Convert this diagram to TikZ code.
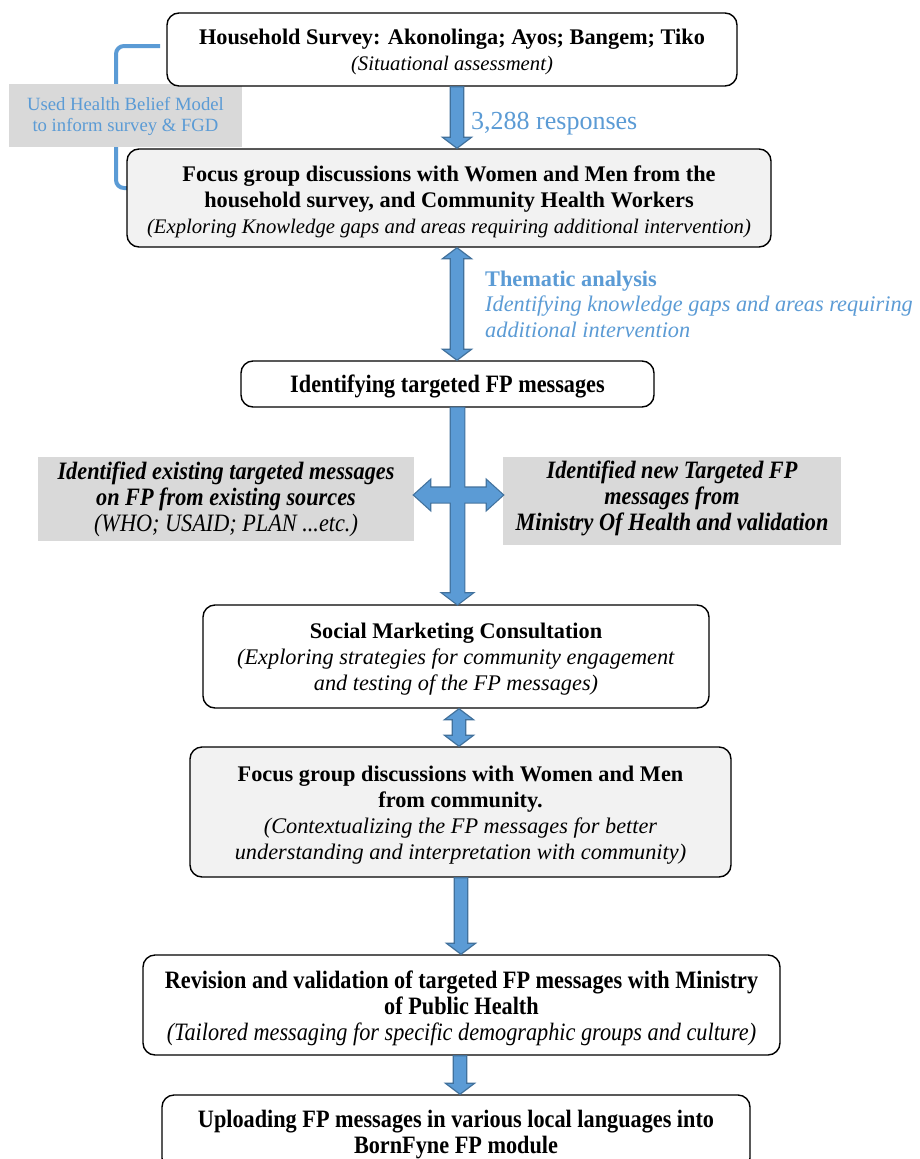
\documentclass[tikz,border=0pt]{standalone}
\usepackage{fontspec}
\setmainfont{Liberation Serif}
\newfontfamily\cond[FakeStretch=0.89]{Liberation Serif}
\usetikzlibrary{calc}
\definecolor{lblue}{HTML}{5B9BD5}
\definecolor{dblue}{HTML}{41719C}
\definecolor{boxgray}{HTML}{F2F2F2}
\definecolor{labgray}{HTML}{D9D9D9}
\newcommand\bsz{\fontsize{22.3}{26}\selectfont}
\newcommand\ssz{\fontsize{20.7}{26}\selectfont}
\newcommand\csz{\fontsize{25}{26}\selectfont}
\newcommand\sw{6.75pt}
\newcommand\hw{14.5pt}
\newcommand\hl{11pt}
% down arrow: #1 style, #2 x, #3 from anchor, #4 to anchor
\newcommand\DownArr[4][]{%
  \path[barrow,#1] let \p1=(#3), \p2=(#4) in
  (#2pt-\sw,\y1) -- (#2pt+\sw,\y1) -- (#2pt+\sw,\y2+\hl) -- (#2pt+\hw,\y2+\hl)
  -- (#2pt,\y2) -- (#2pt-\hw,\y2+\hl) -- (#2pt-\sw,\y2+\hl) -- cycle;}
% double vertical arrow
\newcommand\DblArr[4][]{%
  \path[barrow,#1] let \p1=(#3), \p2=(#4) in
  (#2pt-\sw,\y1-\hl) -- (#2pt-\hw,\y1-\hl) -- (#2pt,\y1) -- (#2pt+\hw,\y1-\hl)
  -- (#2pt+\sw,\y1-\hl) -- (#2pt+\sw,\y2+\hl) -- (#2pt+\hw,\y2+\hl) -- (#2pt,\y2)
  -- (#2pt-\hw,\y2+\hl) -- (#2pt-\sw,\y2+\hl) -- cycle;}
% double horizontal arrow: #2 canvas y (pt), #3 left anchor, #4 right anchor
\newcommand\HDblArr[4][]{%
  \path[barrow,#1] let \p1=(#3), \p2=(#4) in
  (\x1,#2) -- (\x1+16pt,#2+\hw) -- (\x1+16pt,#2+7.5pt) -- (\x2-16pt,#2+7.5pt)
  -- (\x2-16pt,#2+\hw) -- (\x2,#2) -- (\x2-16pt,#2-\hw) -- (\x2-16pt,#2-7.5pt)
  -- (\x1+16pt,#2-7.5pt) -- (\x1+16pt,#2-\hw) -- cycle;}
\tikzset{
  flowbox/.style={draw=black, line width=1.4pt, rounded corners=12pt,
    inner sep=0pt, fill=white},
  graybox/.style={flowbox, fill=boxgray},
  btext/.style={inner sep=0pt, align=center, font=\bsz},
  labbox/.style={fill=labgray, inner sep=0pt},
  bluetxt/.style={text=lblue, inner sep=0pt},
  barrow/.style={fill=lblue, draw=dblue, line width=1.2pt},
  bracket/.style={draw=lblue, line width=4pt, rounded corners=8pt},
}
\begin{document}
\begin{tikzpicture}[x=1pt,y=-1pt]
\useasboundingbox (0,0) rectangle (919,1159);
\clip (0,0) rectangle (919,1159);
\fill[white] (0,0) rectangle (919,1159);

% bracket behind label box
\coordinate (brT) at (160,46);
\coordinate (brB) at (127,188);
\draw[bracket] (brT) -- (116,46) -- (116,188) -- (brB);

\node[labbox, minimum width=233pt, minimum height=63pt] (hb) at (125.5,115.5) {};
\node[btext, font=\fontsize{18.7}{21}\selectfont, text=lblue] (thb) at ($(hb.center)+(0,0.5)$)
  {Used Health Belief Model\\to inform survey \& FGD};

\node[flowbox, minimum width=570pt, minimum height=73pt] (b1) at (452,49.5) {};
\node[btext] (t1) at ($(b1.center)+(0,2.5)$)
  {\textbf{Household Survey: Akonolinga; Ayos; Bangem; Tiko}\\
   {\ssz\itshape (Situational assessment)}};

\node[graybox, minimum width=644pt, minimum height=98pt] (b2) at (449,198) {};
\node[btext] (t2) at ($(b2.center)+(0,3.5)$)
  {\textbf{Focus group discussions with Women and Men from the}\\
   \textbf{household survey, and Community Health Workers}\\
   {\ssz\itshape (Exploring Knowledge gaps and areas requiring additional intervention)}};

\node[flowbox, minimum width=413pt, minimum height=46pt] (b3) at (447.5,384) {};
\node[btext, font=\cond\csz\bfseries] (t3) at ($(b3.center)+(0,2)$)
  {Identifying targeted FP messages};

\node[labbox, minimum width=376pt, minimum height=84pt] (lg) at (226,499) {};
\node[btext, font=\cond\csz] (tlg) at ($(lg.center)+(0,0)$)
  {\textbf{\textit{Identified existing targeted messages}}\\
   \textbf{\textit{on FP from existing sources}}\\
   \textit{(WHO; USAID; PLAN ...etc.)}};

\node[labbox, minimum width=338pt, minimum height=88pt] (rg) at (672,501) {};
\node[btext, font=\cond\csz\bfseries\itshape] (trg) at ($(rg.center)+(0,-3)$)
  {Identified new Targeted FP\\messages from\\Ministry Of Health and validation};

\node[flowbox, minimum width=506pt, minimum height=103pt] (b4) at (456,656.5) {};
\node[btext] (t4) at ($(b4.center)+(0,2.5)$)
  {\textbf{Social Marketing Consultation}\\
   \textit{(Exploring strategies for community engagement}\\
   \textit{and testing of the FP messages)}};

\node[graybox, minimum width=541pt, minimum height=130pt] (b5) at (460.5,812) {};
\node[btext] (t5) at ($(b5.center)+(0,3)$)
  {\textbf{Focus group discussions with Women and Men}\\
   \textbf{from community.}\\
   \textit{(Contextualizing the FP messages for better}\\
   \textit{understanding and interpretation with community)}};

\node[flowbox, minimum width=637pt, minimum height=100pt] (b6) at (461.5,1005) {};
\node[btext, font=\cond\csz] (t6) at ($(b6.center)+(0,3.5)$)
  {\textbf{Revision and validation of targeted FP messages with Ministry}\\
   \textbf{of Public Health}\\
   \textit{(Tailored messaging for specific demographic groups and culture)}};

\node[flowbox, minimum width=588pt, minimum height=75pt] (b7) at (456,1132.5) {};
\node[btext, font=\cond\csz\bfseries] (t7) at ($(b7.center)+(0,2)$)
  {Uploading FP messages in various local languages into\\BornFyne FP module};

% labels
\node[bluetxt, anchor=west, font=\fontsize{26}{30}\selectfont] (resp) at (471,123.5)
  {3,288 responses};
\node[bluetxt, anchor=west, align=left, font=\fontsize{22.3}{25.5}\selectfont] (them) at (485,304)
  {\textbf{Thematic analysis}\\
   \textit{Identifying knowledge gaps and areas requiring}\\
   \textit{additional intervention}};

% arrows
\DownArr{457}{b1.south}{b2.north}
\DblArr{457}{b2.south}{b3.north}
% crossing arrows: outlines first, then fills
\DownArr[fill=none, line width=2.4pt]{457.5}{b3.south}{b4.north}
\HDblArr[fill=none, line width=2.4pt]{-495pt}{lg.east}{rg.west}
\DownArr[draw=none]{457.5}{b3.south}{b4.north}
\HDblArr[draw=none]{-495pt}{lg.east}{rg.west}
\DblArr{459}{b4.south}{b5.north}
\DownArr{461}{b5.south}{b6.north}
\DownArr{460}{b6.south}{b7.north}
\end{tikzpicture}
\end{document}
